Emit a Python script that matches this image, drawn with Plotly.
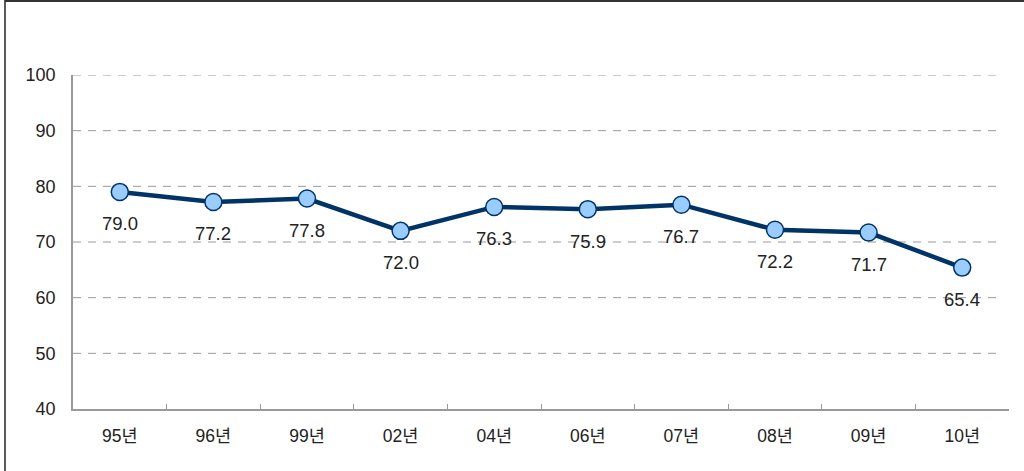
import plotly.graph_objects as go

years = ["95년", "96년", "99년", "02년", "04년", "06년", "07년", "08년", "09년", "10년"]
values = [79.0, 77.2, 77.8, 72.0, 76.3, 75.9, 76.7, 72.2, 71.7, 65.4]
y_ticks = [40, 50, 60, 70, 80, 90, 100]

W, H = 1024, 471
ML, MR, MT, MB = 73, 15, 75, 62
PW, PH = W - ML - MR, H - MT - MB

font_family = "Liberation Sans, Arial, Noto Sans CJK KR, sans-serif"

fig = go.Figure()

# dashed horizontal grid
for v in y_ticks[1:]:
    fig.add_shape(type="line", xref="paper", yref="y", x0=0, x1=(1003 - ML) / PW,
                  y0=v, y1=v, line=dict(color="#999999", width=1, dash="8px,7px"), layer="below")

fig.add_trace(go.Scatter(
    x=years, y=values, mode="lines+markers",
    line=dict(color="#003366", width=4.5),
    marker=dict(size=17, color="#99CCFF", line=dict(color="#003366", width=1.5)),
    hoverinfo="skip",
))

for x, v in zip(years, values):
    fig.add_annotation(x=x, y=v, text=f"{v:.1f}", showarrow=False, yshift=-32,
                       font=dict(size=18.5, color="#222222", family=font_family))

# outer frame (left and top edges)
fig.add_shape(type="line", xref="paper", yref="paper",
              x0=(5 - ML) / PW, x1=(5 - ML) / PW, y0=(H - MB - H) / PH, y1=(H - MB - 0) / PH,
              line=dict(color="#222222", width=1.5))
fig.add_shape(type="line", xref="paper", yref="paper",
              x0=(5 - ML) / PW, x1=(W - ML) / PW, y0=(H - MB - 1) / PH, y1=(H - MB - 1) / PH,
              line=dict(color="#333333", width=2))

fig.update_layout(
    width=W, height=H,
    margin=dict(l=ML, r=MR, t=MT, b=MB),
    paper_bgcolor="white", plot_bgcolor="white",
    showlegend=False,
    font=dict(family=font_family, size=17, color="#222222"),
    xaxis=dict(
        type="category", range=[-0.5, len(years) - 0.5],
        showgrid=False, zeroline=False,
        showline=True, linecolor="#999999", linewidth=1.5,
        ticks="inside", ticklen=5, tickcolor="#999999", tickwidth=1,
        tickson="boundaries", ticklabelstandoff=10,
        tickfont=dict(size=17.5, color="#222222"),
    ),
    yaxis=dict(
        range=[40, 100], tickvals=y_ticks,
        showgrid=False, zeroline=False,
        showline=True, linecolor="#999999", linewidth=1.5,
        ticks="", ticklabelstandoff=12,
        tickfont=dict(size=18, color="#222222"),
    ),
)

fig.write_html("out.html")
